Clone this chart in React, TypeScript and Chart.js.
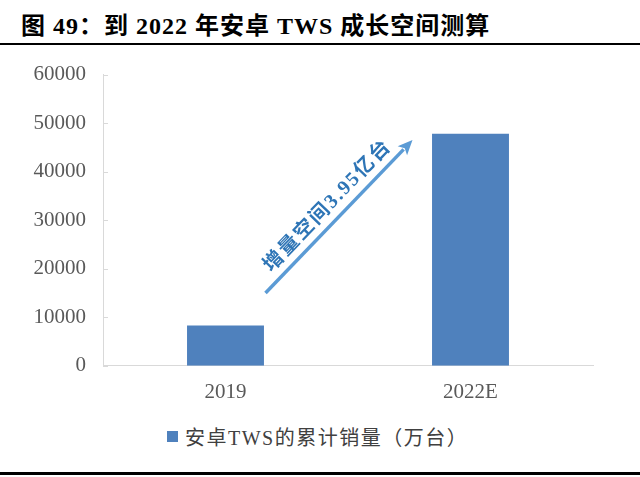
import { useEffect, useRef } from "react";
import { Chart, registerables, type Plugin } from "chart.js";

Chart.register(...registerables);

const CATEGORIES = ["2019", "2022E"];
const SALES = [8300, 47800]; // 安卓TWS累计销量（万台）
const Y_TICKS = [0, 10000, 20000, 30000, 40000, 50000, 60000];
const SERIES_LABEL = "安卓TWS的累计销量（万台）";
const ARROW_TEXT = "增量空间3.95亿台";
const ARROW_FROM = 15000; // y value at arrow tail
const ARROW_TO = 46500; // y value at arrow head

const BAR = "#4F81BD";
const ARROW = "#5B9BD5";
const AXIS = "#D9D9D9";
const SERIF = "'Liberation Serif', 'Noto Sans CJK SC', serif";

// small inward tick marks on the y axis
const innerTicks: Plugin<"bar"> = {
  id: "innerTicks",
  afterDraw(chart) {
    const { ctx } = chart;
    const y = chart.scales.y;
    ctx.save();
    ctx.strokeStyle = AXIS;
    ctx.lineWidth = 1;
    y.ticks.forEach((t) => {
      const py = Math.round(y.getPixelForValue(t.value)) + 0.5;
      ctx.beginPath();
      ctx.moveTo(y.right, py);
      ctx.lineTo(y.right + 5, py);
      ctx.stroke();
    });
    ctx.restore();
  },
};

// arrow between the two bars with its label
const growthArrow: Plugin<"bar"> = {
  id: "growthArrow",
  afterDraw(chart) {
    const { ctx } = chart;
    const x = chart.scales.x;
    const y = chart.scales.y;
    const x0 = x.getPixelForValue(0) + 40;
    const y0 = y.getPixelForValue(ARROW_FROM);
    const x1 = x.getPixelForValue(1) - 58;
    const y1 = y.getPixelForValue(ARROW_TO);
    const ang = Math.atan2(y1 - y0, x1 - x0);
    const head = 16;

    ctx.save();
    ctx.strokeStyle = ARROW;
    ctx.fillStyle = ARROW;
    ctx.lineWidth = 3.5;
    ctx.beginPath();
    ctx.moveTo(x0, y0);
    ctx.lineTo(x1 - Math.cos(ang) * head * 0.8, y1 - Math.sin(ang) * head * 0.8);
    ctx.stroke();
    ctx.beginPath();
    ctx.moveTo(x1, y1);
    ctx.lineTo(
      x1 - head * Math.cos(ang - 0.42),
      y1 - head * Math.sin(ang - 0.42)
    );
    ctx.lineTo(
      x1 - head * 0.7 * Math.cos(ang),
      y1 - head * 0.7 * Math.sin(ang)
    );
    ctx.lineTo(
      x1 - head * Math.cos(ang + 0.42),
      y1 - head * Math.sin(ang + 0.42)
    );
    ctx.closePath();
    ctx.fill();

    const mx = (x0 + x1) / 2;
    const my = (y0 + y1) / 2;
    ctx.translate(mx, my);
    ctx.rotate(ang);
    ctx.fillStyle = "#2E75B6";
    ctx.font = `bold 20px ${SERIF}`;
    (ctx as any).letterSpacing = "2px";
    ctx.textAlign = "center";
    ctx.textBaseline = "alphabetic";
    ctx.fillText(ARROW_TEXT, 0, -10);
    ctx.restore();
  },
};

export default function App() {
  const canvasRef = useRef<HTMLCanvasElement>(null);

  useEffect(() => {
    if (!canvasRef.current) return;
    const chart = new Chart(canvasRef.current, {
      type: "bar",
      data: {
        labels: CATEGORIES,
        datasets: [
          {
            label: SERIES_LABEL,
            data: SALES,
            backgroundColor: BAR,
            borderWidth: 0,
            categoryPercentage: 1,
            barPercentage: 0.314,
          },
        ],
      },
      options: {
        animation: false,
        responsive: true,
        maintainAspectRatio: false,
        layout: { padding: { top: 10, right: 47, bottom: 0, left: 0 } },
        plugins: {
          legend: { display: false },
          tooltip: { enabled: false },
        },
        scales: {
          x: {
            grid: { display: false, drawTicks: false, tickLength: 0 },
            border: { color: AXIS, width: 1 },
            ticks: {
              color: "#595959",
              font: { family: SERIF, size: 21 },
              padding: 14,
            },
          },
          y: {
            min: 0,
            max: 60000,
            afterFit: (s) => {
              s.width = 103;
            },
            afterBuildTicks: (s) => {
              s.ticks = Y_TICKS.map((v) => ({ value: v }));
            },
            grid: { display: false, drawTicks: false, tickLength: 0 },
            border: { color: AXIS, width: 1 },
            ticks: {
              color: "#595959",
              font: { family: SERIF, size: 21 },
              padding: 17,
              callback: (v) => String(v),
            },
          },
        },
      },
      plugins: [innerTicks, growthArrow],
    });
    return () => chart.destroy();
  }, []);

  return (
    <div
      style={{
        position: "fixed",
        left: 0,
        top: 0,
        width: 640,
        height: 477,
        background: "#fff",
        fontFamily: SERIF,
        overflow: "hidden",
      }}
    >
      <div
        style={{
          position: "absolute",
          left: 21,
          top: 6,
          fontSize: 24,
          fontWeight: "bold",
          letterSpacing: 1,
          whiteSpace: "nowrap",
          color: "#000",
        }}
      >
        图 49：到 2022 年安卓 TWS 成长空间测算
      </div>
      <div
        style={{
          position: "absolute",
          left: 0,
          top: 43,
          width: 640,
          height: 2,
          background: "#000",
        }}
      />
      <div
        style={{
          position: "absolute",
          left: 0,
          top: 45,
          width: 640,
          height: 374,
        }}
      >
        <canvas ref={canvasRef} />
      </div>
      <div
        style={{
          position: "absolute",
          left: 167,
          top: 422,
          display: "flex",
          alignItems: "center",
          fontSize: 20,
          letterSpacing: 1.5,
          color: "#404040",
          whiteSpace: "nowrap",
        }}
      >
        <span
          style={{
            display: "inline-block",
            width: 11,
            height: 11,
            background: BAR,
            marginRight: 7,
          }}
        />
        {SERIES_LABEL}
      </div>
      <div
        style={{
          position: "absolute",
          left: 0,
          top: 472,
          width: 640,
          height: 3,
          background: "#000",
        }}
      />
    </div>
  );
}
